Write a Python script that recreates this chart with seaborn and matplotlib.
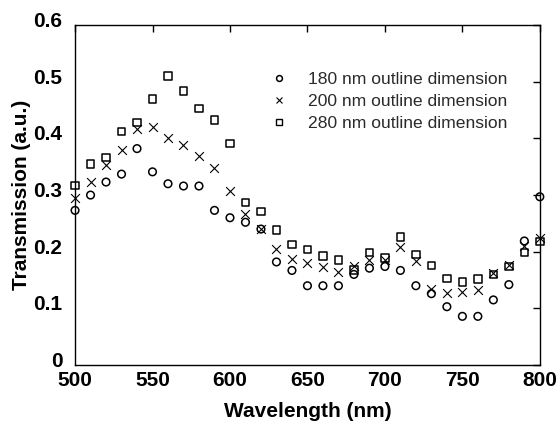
import numpy as np
import pandas as pd
import matplotlib
matplotlib.use("Agg")
import matplotlib.pyplot as plt
import matplotlib.transforms as mtransforms
import seaborn as sns
from matplotlib.lines import Line2D

wavelength = list(range(500, 801, 10))
t180 = [0.273, 0.300, 0.323, 0.337, 0.382, 0.341, 0.320, 0.316, 0.316, 0.273, 0.260,
        0.252, 0.240, 0.182, 0.167, 0.140, 0.140, 0.140, 0.160, 0.171, 0.174, 0.167,
        0.140, 0.126, 0.103, 0.086, 0.086, 0.115, 0.142, 0.219, 0.297]
t200 = [0.295, 0.323, 0.353, 0.380, 0.416, 0.421, 0.400, 0.389, 0.369, 0.348, 0.307,
        0.267, 0.240, 0.204, 0.188, 0.181, 0.173, 0.164, 0.175, 0.186, 0.186, 0.208,
        0.183, 0.134, 0.127, 0.129, 0.133, 0.162, 0.177, 0.210, 0.224]
t280 = [0.317, 0.355, 0.366, 0.412, 0.428, 0.470, 0.510, 0.484, 0.453, 0.432, 0.391,
        0.287, 0.271, 0.238, 0.213, 0.204, 0.192, 0.185, 0.168, 0.199, 0.189, 0.226,
        0.195, 0.176, 0.153, 0.147, 0.152, 0.160, 0.174, 0.199, 0.218]
labels = ["180 nm outline dimension", "200 nm outline dimension", "280 nm outline dimension"]
x_ticks = [500, 550, 600, 650, 700, 750, 800]
y_ticks = [0, 0.1, 0.2, 0.3, 0.4, 0.5, 0.6]
y_ticklabels = ["0", "0.1", "0.2", "0.3", "0.4", "0.5", "0.6"]

df = pd.DataFrame({
    "Wavelength": wavelength * 3,
    "Transmission": t180 + t200 + t280,
    "Series": [labels[0]] * len(wavelength) + [labels[1]] * len(wavelength) + [labels[2]] * len(wavelength),
})

sns.set_theme(style="white")
plt.rcParams['font.family'] = ['Liberation Sans', 'DejaVu Sans']

fig = plt.figure(figsize=(5.6, 4.25), dpi=100)
ax = fig.add_axes([0.134, 0.141, 0.830, 0.800])

markers = ["o", "x", "s"]
for lab, m in zip(labels, markers):
    sub = df[df["Series"] == lab]
    if m == "x":
        sns.scatterplot(data=sub, x="Wavelength", y="Transmission", marker=m, s=40,
                        color="black", linewidth=0.8, ax=ax, clip_on=False, zorder=3)
    else:
        sns.scatterplot(data=sub, x="Wavelength", y="Transmission", marker=m, s=30,
                        facecolor="none", edgecolor="black", linewidth=1.1, ax=ax,
                        clip_on=False, zorder=3)

ax.set_xlim(500, 800)
ax.set_ylim(0, 0.6)
ax.set_xticks(x_ticks)
ax.set_yticks(y_ticks)
ax.set_yticklabels(y_ticklabels)
ax.tick_params(direction="in", length=5, width=1, top=True, right=True,
               labelsize=15, colors="black")
ax.tick_params(axis="x", pad=4)
ax.tick_params(axis="y", pad=9)
shift_up = mtransforms.ScaledTranslation(0, 4 / 72, fig.dpi_scale_trans)
for lbl in ax.get_xticklabels() + ax.get_yticklabels():
    lbl.set_fontweight("bold")
for lbl in ax.get_yticklabels():
    lbl.set_transform(lbl.get_transform() + shift_up)
for sp in ax.spines.values():
    sp.set_color("black")
    sp.set_linewidth(1.0)

ax.set_xlabel("Wavelength (nm)", fontsize=15, fontweight="bold", color="black", labelpad=9)
ax.set_ylabel("Transmission (a.u.)", fontsize=15, fontweight="bold", color="black", labelpad=2)

handles = [
    Line2D([], [], linestyle="none", marker="o", markersize=4.2, markerfacecolor="none",
           markeredgecolor="black", markeredgewidth=1.1),
    Line2D([], [], linestyle="none", marker="x", markersize=4.5, color="black",
           markeredgewidth=0.8),
    Line2D([], [], linestyle="none", marker="s", markersize=4.2, markerfacecolor="none",
           markeredgecolor="black", markeredgewidth=1.0),
]
ax.legend(handles, labels, loc="upper left", bbox_to_anchor=(0.419, 0.862), frameon=False,
          fontsize=12.6, handlelength=1.0, handletextpad=1.2, labelspacing=0.38,
          borderpad=0, borderaxespad=0, labelcolor="#2a2a2a")

fig.savefig("out.png", dpi=100)
